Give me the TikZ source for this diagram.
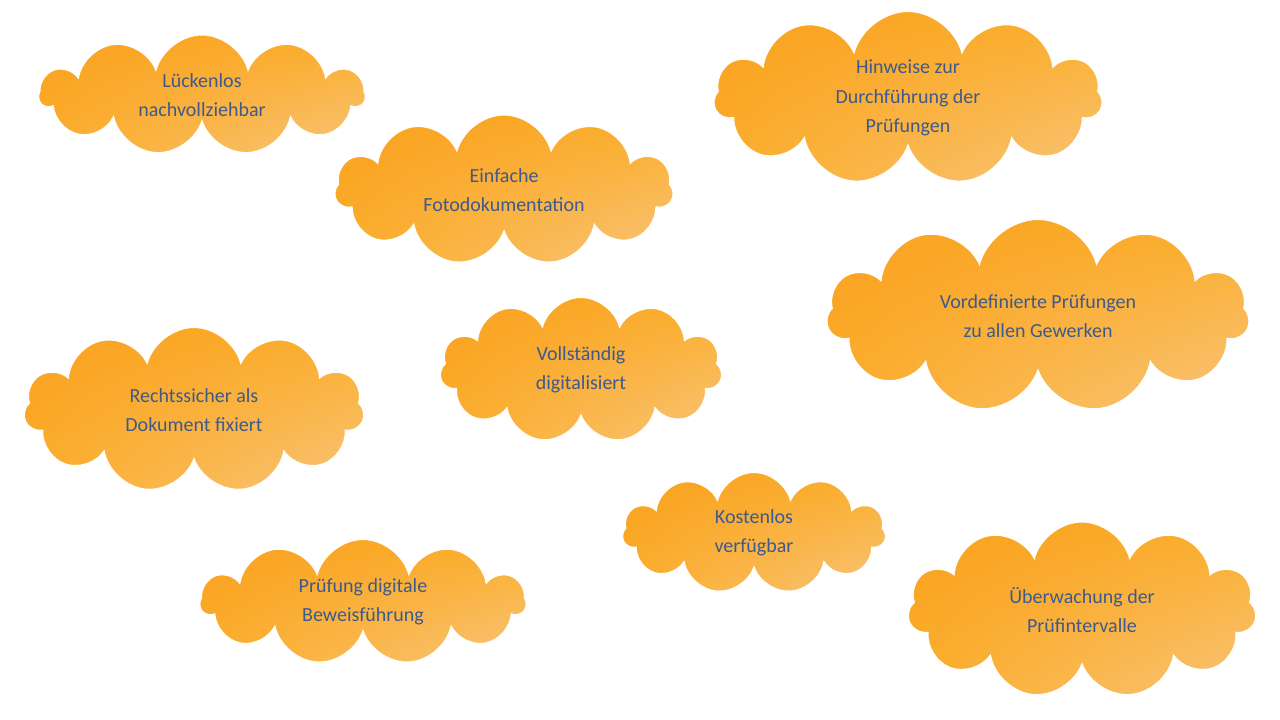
\documentclass[tikz,border=0pt]{standalone}
\usepackage{fontspec}
\setmainfont{Carlito}
\usetikzlibrary{shapes.symbols,shadings}
\definecolor{od}{HTML}{F9A01E}
\definecolor{om}{HTML}{FBAE2A}
\definecolor{ol}{HTML}{F8C47C}
\definecolor{tx}{HTML}{3E5A8A}
\tikzset{cl/.style={cloud,cloud puffs=11,cloud ignores aspect,draw=white,line width=0.8pt,
  upper left=od,upper right=om,lower left=om,lower right=ol,
  text=tx,align=center,font=\fontsize{15}{22}\selectfont,inner sep=0pt}}
\begin{document}
\begin{tikzpicture}[x=0.75pt,y=-0.75pt]
\useasboundingbox[fill=white] (0,0) rectangle (1280,720);
\node[cl,minimum width=325*0.75pt,minimum height=120*0.75pt] (a) at (202,95) {Lückenlos\\nachvollziehbar};
\node[cl,minimum width=338*0.75pt,minimum height=150*0.75pt] (b) at (504,190) {Einfache\\Fotodokumentation};
\node[cl,minimum width=388*0.75pt,minimum height=173*0.75pt] (c) at (908,98) {Hinweise zur\\Durchführung der\\Prüfungen};
\node[cl,minimum width=422*0.75pt,minimum height=193*0.75pt] (d) at (1038,316) {Vordefinierte Prüfungen\\zu allen Gewerken};
\node[cl,minimum width=340*0.75pt,minimum height=165*0.75pt] (e) at (194,410) {Rechtssicher als\\Dokument fixiert};
\node[cl,minimum width=282*0.75pt,minimum height=145*0.75pt] (f) at (581,370) {Vollständig\\digitalisiert};
\node[cl,minimum width=263*0.75pt,minimum height=121*0.75pt] (g) at (754,533) {Kostenlos\\verfügbar};
\node[cl,minimum width=325*0.75pt,minimum height=125*0.75pt] (h) at (363,602) {Prüfung digitale\\Beweisführung};
\node[cl,minimum width=348*0.75pt,minimum height=176*0.75pt] (i) at (1082,610) {Überwachung der\\Prüfintervalle};
\end{tikzpicture}
\end{document}
